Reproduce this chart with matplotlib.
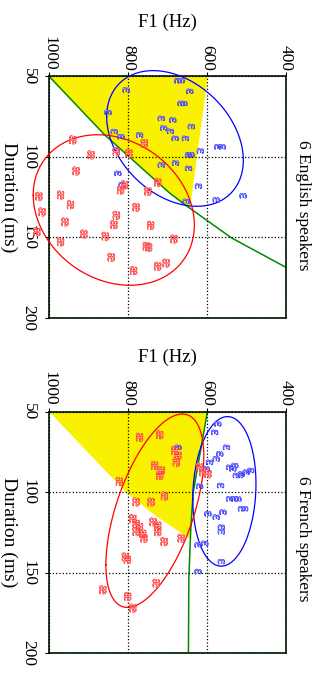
import numpy as np
import matplotlib
matplotlib.use('Agg')
import matplotlib.pyplot as plt
import matplotlib.patheffects as pe

plt.rcParams['font.family'] = ['Liberation Serif', 'DejaVu Serif']

# English speakers: F1 (Hz) and duration (ms)
en_eps_f1 = [673, 665, 804, 643, 665, 658, 850, 715, 686, 639, 709, 834, 692, 817, 770, 680,
             654, 572, 561, 829, 616, 646, 640, 715, 679, 646, 825, 621, 814, 508, 576, 652]
en_eps_dur = [52.7, 52.7, 58.5, 59.3, 66.8, 66.8, 72.3, 76.1, 77.1, 81.2, 82.1, 84.3, 84.1, 87.5, 86.4, 88.5,
              88.5, 93.7, 93.7, 95.5, 96.3, 98.8, 98.6, 105.0, 103.8, 107.1, 110.2, 118.1, 117.2, 124.1, 126.6, 127.6]
en_ae_f1 = [939, 893, 931, 829, 797, 758, 724, 749, 808, 818, 779, 1025, 1017, 1030, 970, 945,
            959, 911, 970, 857, 829, 835, 742, 842, 747, 753, 785, 724, 703, 683]
en_ae_dur = [89.5, 98.8, 108.8, 96.8, 97.8, 91.6, 115.8, 121.4, 117.4, 120.6, 131.3, 124.5, 134.2, 146.6, 123.7, 129.7,
             140.4, 147.9, 152.8, 149.3, 136.3, 142.1, 142.5, 162.3, 156.1, 155.5, 170.6, 167.9, 165.9, 151.0]

# French speakers
fr_eps_f1 = [572, 580, 550, 673, 567, 576, 593, 542, 529, 534, 525, 512, 500, 489, 517, 601,
             618, 565, 542, 529, 521, 512, 504, 559, 576, 597, 563, 563, 622, 605, 563, 622]
fr_eps_dur = [57.6, 62.8, 72.1, 72.1, 76.2, 79.3, 81.4, 84.5, 83.4, 85.5, 89.6, 88.6, 87.5, 86.5, 89.6, 85.5,
              96.2, 95.8, 104.1, 104.1, 104.1, 110.2, 110.2, 112.3, 115.4, 113.3, 121.6, 124.5, 132.7, 131.7, 143.0, 149.2]
fr_ae_f1 = [770, 719, 732, 715, 719, 821, 779, 741, 707, 787, 779, 770, 762, 736, 724, 681,
            673, 677, 618, 610, 597, 779, 759, 724, 708, 806, 801, 728, 863, 800, 787, 665]
fr_ae_dur = [65.9, 64.4, 83.4, 86.5, 89.6, 93.3, 106.1, 106.1, 102.4, 116.4, 119.5, 121.6, 125.7, 118.5, 120.6, 74.1,
             77.2, 81.4, 84.5, 87.5, 88.6, 124.5, 128.6, 124.5, 130.7, 140.2, 141.8, 156.5, 160.6, 164.7, 171.9, 128.6]

# ellipses: centre F1, centre duration, half range F1, half range duration, correlation
en_eps_ell = (681, 88.6, 173, 42.1, -0.32)
en_ae_ell = (836, 133.0, 204, 46.7, -0.20)
fr_eps_ell = (556, 99.5, 80, 46.4, 0.10)
fr_ae_ell = (732, 111.5, 124, 60.0, 0.56)

# category boundaries (green) and yellow regions
en_bound_f1 = [1000, 859, 694, 656, 597, 538, 400]
en_bound_dur = [50, 86.4, 122.6, 129.7, 140.0, 150.3, 168.6]
en_region_f1 = [1000, 598, 643, 656, 694, 859]
en_region_dur = [50, 50, 132.0, 129.7, 122.6, 86.4]

fr_bound_f1 = [599, 614, 626, 635, 641, 646, 647]
fr_bound_dur = [50, 71.0, 87.5, 100.0, 122.6, 153.4, 200]
fr_region_f1 = [1000, 599, 614, 626, 635, 641, 643, 728, 804]
fr_region_dur = [50, 50, 71.0, 87.5, 100.0, 122.6, 129.0, 115.0, 100.3]

titles = ['6 English speakers', '6 French speakers']


def draw_ellipse(ax, ell, color):
    cf, cd, a, b, r = ell
    t = np.linspace(0, 2 * np.pi, 200)
    f = cf + a * np.cos(t)
    d = cd + b * (r * np.cos(t) + np.sqrt(1 - r * r) * np.sin(t))
    ax.plot(f, d, color=color, lw=0.9, clip_on=False, zorder=3)


def draw_symbols(ax, fs, ds, sym, color, light):
    # thin outlined glyphs, like the reference
    for f, d in zip(fs, ds):
        ax.text(f, d, sym, color=light, fontsize=10, rotation=-90,
                ha='center', va='center', clip_on=False, zorder=4,
                path_effects=[pe.withStroke(linewidth=0.5, foreground=color)])


fig = plt.figure(figsize=(3.22, 6.79), dpi=100)
panels = [
    (0.5317, en_eps_f1, en_eps_dur, en_ae_f1, en_ae_dur, en_eps_ell, en_ae_ell,
     en_bound_f1, en_bound_dur, en_region_f1, en_region_dur, 22, 205),
    (0.0378, fr_eps_f1, fr_eps_dur, fr_ae_f1, fr_ae_dur, fr_eps_ell, fr_ae_ell,
     fr_bound_f1, fr_bound_dur, fr_region_f1, fr_region_dur, 357, 539),
]
for i, (b, ef, ed, af, ad, eell, aell, bf, bd, rf, rd, fy, ty) in enumerate(panels):
    ax = fig.add_axes([0.1522, b, 0.736, 0.356])
    ax.set_xlim(1000, 400)
    ax.set_ylim(200, 50)
    ax.fill(rf, rd, color='#f9f100', lw=0, zorder=0.5)
    ax.plot(bf, bd, color='#008a00', lw=1.1, zorder=2)
    ax.set_xticks([1000, 800, 600, 400])
    ax.set_yticks([50, 100, 150, 200])
    ax.xaxis.tick_top()
    ax.tick_params(axis='x', direction='out', length=3, pad=1, labelsize=12.5, labelrotation=-90)
    ax.tick_params(axis='y', direction='out', length=3, pad=6, labelsize=12.5, labelrotation=-90)
    for lab in ax.get_yticklabels():
        lab.set_va('center')
    ax.grid(True, color='black', linestyle=':', lw=0.9, zorder=1)
    ax.set_axisbelow(False)
    for s in ax.spines.values():
        s.set_color('#0e260e')
        s.set_linewidth(1.3)
    draw_symbols(ax, ef, ed, '\u025b', 'blue', '#9a9aff')
    draw_symbols(ax, af, ad, '\u00e6', 'red', '#ff9a9a')
    draw_ellipse(ax, eell, 'blue')
    draw_ellipse(ax, aell, 'red')

    fig.text(167 / 322, 1 - fy / 679, 'F1 (Hz)', fontsize=13.5, ha='center', va='center')
    fig.text(9 / 322, b + 0.178, 'Duration (ms)', fontsize=14, rotation=-90,
             ha='center', va='center')
    fig.text(303 / 322, 1 - ty / 679, titles[i], fontsize=12.5, rotation=-90,
             ha='center', va='center')

plt.savefig('out.png', dpi=100)
